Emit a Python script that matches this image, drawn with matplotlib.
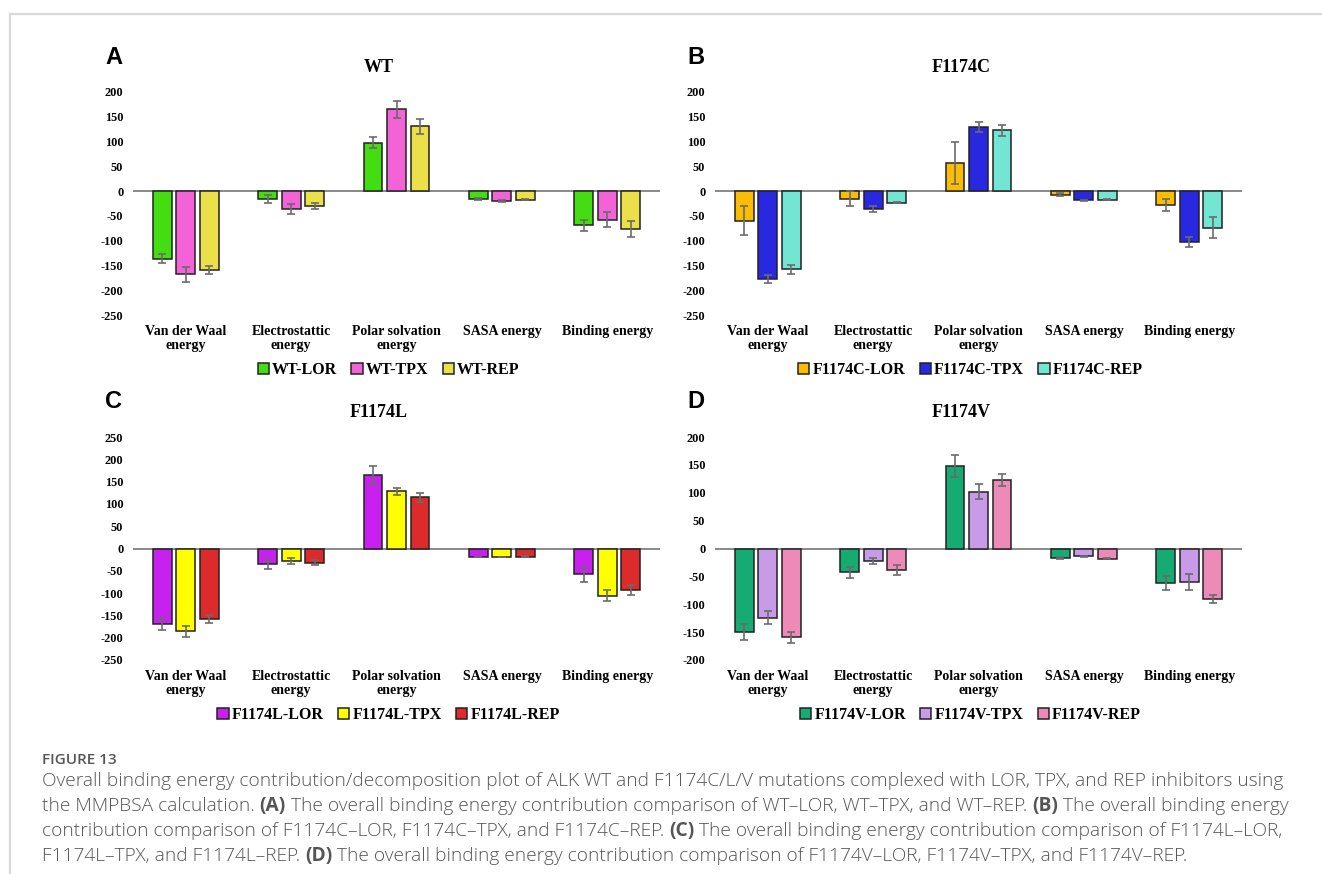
import matplotlib
matplotlib.use('Agg')
import matplotlib.pyplot as plt
from matplotlib.lines import Line2D
import numpy as np

plt.rcParams['axes.unicode_minus'] = False

# energy terms on the x axis
categories = ['Van der Waal\nenergy', 'Electrostattic\nenergy', 'Polar solvation\nenergy',
              'SASA energy', 'Binding energy']

# A: WT
wt_lor = [-136, -16, 98, -15, -69]
wt_lor_err = [10, 9, 11, 2, 11]
wt_tpx = [-168, -37, 165, -19, -58]
wt_tpx_err = [15, 10, 17, 2, 15]
wt_rep = [-159, -30, 131, -17, -77]
wt_rep_err = [8, 6, 15, 1, 16]

# B: F1174C
c_lor = [-60, -15, 57, -7, -28]
c_lor_err = [29, 15, 43, 3, 12]
c_tpx = [-178, -37, 130, -18, -103]
c_tpx_err = [8, 6, 10, 1, 10]
c_rep = [-158, -23, 123, -17, -74]
c_rep_err = [9, 2, 11, 1, 21]

# C: F1174L
l_lor = [-169, -35, 165, -19, -58]
l_lor_err = [14, 10, 20, 1, 16]
l_tpx = [-186, -28, 128, -19, -106]
l_tpx_err = [12, 6, 7, 1, 12]
l_rep = [-158, -32, 115, -18, -93]
l_rep_err = [8, 6, 10, 1, 12]

# D: F1174V
v_lor = [-150, -43, 148, -17, -62]
v_lor_err = [15, 10, 19, 1, 13]
v_tpx = [-124, -22, 102, -14, -60]
v_tpx_err = [11, 5, 13, 1, 14]
v_rep = [-159, -38, 123, -18, -90]
v_rep_err = [10, 9, 11, 1, 7]

W, H = 1322, 874
fig = plt.figure(figsize=(W / 100, H / 100), dpi=100)

serif = 'Liberation Serif'

def px_axes(left, top, right, bottom):
    return fig.add_axes([left / W, 1 - bottom / H, (right - left) / W, (bottom - top) / H])

panels = [
    ('A', 'WT', (133, 92, 660, 315), (-250, 200),
     [('WT-LOR', wt_lor, wt_lor_err, '#44dd11'),
      ('WT-TPX', wt_tpx, wt_tpx_err, '#f462d8'),
      ('WT-REP', wt_rep, wt_rep_err, '#ece04a')]),
    ('B', 'F1174C', (715, 92, 1242, 315), (-250, 200),
     [('F1174C-LOR', c_lor, c_lor_err, '#fbbc04'),
      ('F1174C-TPX', c_tpx, c_tpx_err, '#2828e0'),
      ('F1174C-REP', c_rep, c_rep_err, '#72e6d2')]),
    ('C', 'F1174L', (133, 437, 660, 660), (-250, 250),
     [('F1174L-LOR', l_lor, l_lor_err, '#c820ee'),
      ('F1174L-TPX', l_tpx, l_tpx_err, '#ffff00'),
      ('F1174L-REP', l_rep, l_rep_err, '#dd2b2b')]),
    ('D', 'F1174V', (715, 437, 1242, 660), (-200, 200),
     [('F1174V-LOR', v_lor, v_lor_err, '#17ab74'),
      ('F1174V-TPX', v_tpx, v_tpx_err, '#c79be8'),
      ('F1174V-REP', v_rep, v_rep_err, '#ee8ab8')]),
]

x = np.arange(len(categories))
bw = 0.18
step = 0.223

for letter, title, box, ylim, series in panels:
    left, top, right, bottom = box
    ax = px_axes(left, top, right, bottom)
    handles = []
    for i, (name, vals, errs, col) in enumerate(series):
        b = ax.bar(x + (i - 1) * step, vals, bw, color=col, edgecolor='#222222',
                   linewidth=1.1, label=name, zorder=2)
        ax.errorbar(x + (i - 1) * step, vals, yerr=errs, fmt='none', ecolor='#6b6b6b',
                    elinewidth=1.2, capsize=3, capthick=1.2, zorder=3)
        handles.append(b)
    ax.axhline(0, color='#808080', lw=1.3, zorder=1)
    ax.set_xlim(-0.5, len(categories) - 0.5)
    ax.set_ylim(*ylim)
    ax.set_yticks(np.arange(ylim[0], ylim[1] + 1, 50))
    ax.set_xticks(x)
    ax.set_xticklabels(categories, fontfamily=serif, fontweight='bold', fontsize=10,
                       linespacing=1.1)
    for lab in ax.get_yticklabels():
        lab.set_fontfamily(serif)
        lab.set_fontweight('bold')
        lab.set_fontsize(8.8)
    ax.tick_params(length=0, axis='y', pad=7)
    ax.tick_params(length=0, axis='x', pad=7)
    for s in ax.spines.values():
        s.set_visible(False)

    cx = (left - 35 + right) / 2
    fig.text((left - 28) / W, 1 - (top - 35) / H, letter, fontfamily='Liberation Sans',
             fontweight='bold', fontsize=17, ha='left', va='center')
    fig.text(cx / W, 1 - (top - 25) / H, title, fontfamily=serif, fontweight='bold',
             fontsize=13, ha='center', va='center')
    fig.legend(handles=handles, loc='center',
               bbox_to_anchor=((left + right) / 2 / W - 0.006, 1 - (bottom + 55) / H),
               ncol=3, frameon=False,
               prop={'family': serif, 'weight': 'bold', 'size': 11.5},
               handlelength=0.7, handleheight=0.7, handletextpad=0.2,
               columnspacing=0.9, borderpad=0)

# frame lines of the page
fig.add_artist(Line2D([10 / W, 1], [1 - 14 / H, 1 - 14 / H], color='#d9d9d9', lw=1.6))
fig.add_artist(Line2D([10 / W, 10 / W], [0, 1 - 14 / H], color='#d9d9d9', lw=1.6))

# caption
cap_color = '#555555'
fig.text(42 / W, 1 - 760 / H, 'FIGURE 13', fontfamily='Open Sans', fontweight='semibold',
         fontsize=11, color=cap_color, ha='left', va='center')

caption = [
    [('Overall binding energy contribution/decomposition plot of ALK WT and F1174C/L/V mutations '
      'complexed with LOR, TPX, and REP inhibitors using', 'light')],
    [('the MMPBSA calculation. ', 'light'), ('(A)', 'bold'),
     (' The overall binding energy contribution comparison of WT\u2013LOR, WT\u2013TPX, and WT\u2013REP. ', 'light'),
     ('(B)', 'bold'), (' The overall binding energy', 'light')],
    [('contribution comparison of F1174C\u2013LOR, F1174C\u2013TPX, and F1174C\u2013REP. ', 'light'),
     ('(C)', 'bold'), (' The overall binding energy contribution comparison of F1174L\u2013LOR,', 'light')],
    [('F1174L\u2013TPX, and F1174L\u2013REP. ', 'light'), ('(D)', 'bold'),
     (' The overall binding energy contribution comparison of F1174V\u2013LOR, F1174V\u2013TPX, and F1174V\u2013REP.', 'light')],
]

renderer = fig.canvas.get_renderer()
for row, segs in enumerate(caption):
    y = 1 - (781 + row * 25) / H
    xpos = 42
    for txt, wgt in segs:
        t = fig.text(xpos / W, y, txt, fontfamily='Open Sans', fontweight=wgt,
                     fontsize=13.8, color=cap_color, ha='left', va='center')
        bb = t.get_window_extent(renderer)
        xpos += bb.width

fig.savefig('out.png', dpi=100, facecolor='white')
